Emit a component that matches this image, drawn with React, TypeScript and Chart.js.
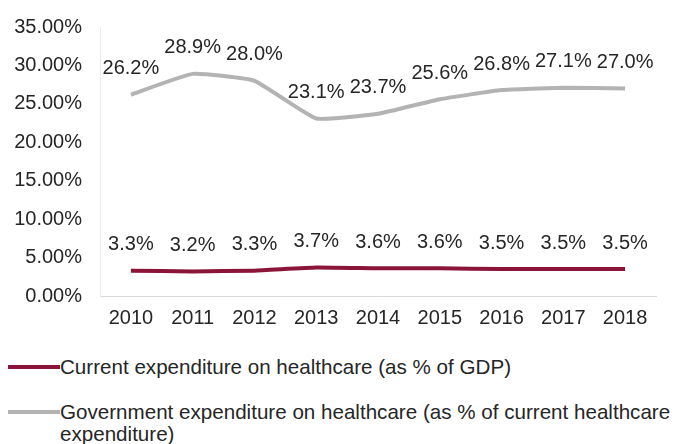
import React, { useEffect, useRef } from "react";
import { Chart, registerables } from "chart.js";

Chart.register(...registerables);

const years = ["2010", "2011", "2012", "2013", "2014", "2015", "2016", "2017", "2018"];
const currentExpenditure = [3.3, 3.2, 3.3, 3.7, 3.6, 3.6, 3.5, 3.5, 3.5];
const governmentExpenditure = [26.2, 28.9, 28.0, 23.1, 23.7, 25.6, 26.8, 27.1, 27.0];
const currentLabel = "Current expenditure on healthcare (as % of GDP)";
const governmentLabelLine1 = "Government expenditure on healthcare (as % of current healthcare";
const governmentLabelLine2 = "expenditure)";

const MAROON = "#8a1538";
const GRAY = "#b3b3b3";
const FONT = "'Liberation Sans', Arial, sans-serif";
const TEXT = "#262626";

const dataLabelPlugin = {
  id: "dataLabels",
  afterDatasetsDraw(chart: any) {
    const ctx = chart.ctx;
    ctx.save();
    ctx.font = `20px ${FONT}`;
    ctx.fillStyle = TEXT;
    ctx.textAlign = "center";
    ctx.textBaseline = "middle";
    chart.data.datasets.forEach((ds: any, i: number) => {
      const meta = chart.getDatasetMeta(i);
      meta.data.forEach((pt: any, j: number) => {
        ctx.fillText(Number(ds.data[j]).toFixed(1) + "%", pt.x, pt.y - 26);
      });
    });
    ctx.restore();
  },
};

export default function App() {
  const ref = useRef<HTMLCanvasElement>(null);
  useEffect(() => {
    document.body.style.margin = "0";
    const chart = new Chart(ref.current!, {
      type: "line",
      data: {
        labels: years,
        datasets: [
          {
            label: currentLabel,
            data: currentExpenditure,
            borderColor: MAROON,
            borderWidth: 4,
            pointRadius: 0,
            tension: 0.12,
          },
          {
            label: governmentLabelLine1 + " " + governmentLabelLine2,
            data: governmentExpenditure,
            borderColor: GRAY,
            borderWidth: 4,
            pointRadius: 0,
            tension: 0.12,
          },
        ],
      },
      options: {
        responsive: false,
        animation: false,
        layout: { padding: { top: 27, left: 13, right: 20, bottom: 10 } },
        plugins: { legend: { display: false }, tooltip: { enabled: false } },
        scales: {
          x: {
            offset: true,
            grid: { display: false, drawTicks: false },
            border: { display: true, color: "#d9d9d9", width: 1 },
            ticks: { font: { family: FONT, size: 20 }, color: TEXT, padding: 10, maxRotation: 0 },
            afterFit: (scale: any) => {
              scale.height = 34;
              scale.paddingLeft = 0;
              scale.paddingRight = 0;
            },
          },
          y: {
            min: 0,
            max: 35,
            grid: { display: false, drawTicks: false },
            border: { display: true, color: "#ececec", width: 1 },
            ticks: {
              stepSize: 5,
              font: { family: FONT, size: 20 },
              color: TEXT,
              padding: 18,
              callback: (v: any) => Number(v).toFixed(2) + "%",
            },
            afterFit: (scale: any) => {
              scale.width = 87;
              scale.paddingTop = 0;
              scale.paddingBottom = 0;
            },
          },
        },
      },
      plugins: [dataLabelPlugin],
    });
    return () => chart.destroy();
  }, []);

  const textStyle: React.CSSProperties = {
    position: "absolute",
    left: 60,
    fontFamily: FONT,
    fontSize: 20.6,
    lineHeight: "22px",
    color: TEXT,
    whiteSpace: "nowrap",
  };

  return (
    <div style={{ position: "absolute", left: 0, top: 0, width: 676, height: 444, background: "#fff" }}>
      <canvas ref={ref} width={676} height={340} style={{ position: "absolute", left: 0, top: 0 }} />
      <div style={{ position: "absolute", left: 8, top: 365, width: 52, height: 4, background: MAROON }} />
      <div style={{ ...textStyle, top: 356 }}>{currentLabel}</div>
      <div style={{ position: "absolute", left: 8, top: 410, width: 52, height: 4, background: GRAY }} />
      <div style={{ ...textStyle, top: 401 }}>
        {governmentLabelLine1}
        <br />
        {governmentLabelLine2}
      </div>
    </div>
  );
}
